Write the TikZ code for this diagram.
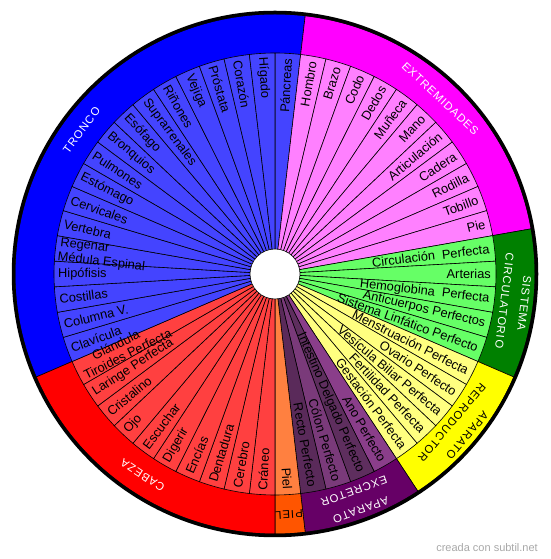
\documentclass[tikz,border=0pt]{standalone}
\usepackage{tikz}
\usetikzlibrary{calc}
\usepackage{fontspec}
\setmainfont{Liberation Sans}
\newfontfamily\catfont[LetterSpace=9]{Liberation Sans}
\pgfdeclarelayer{fg}
\pgfsetlayers{main,fg}
\definecolor{trI}{HTML}{4444FF}\definecolor{trR}{HTML}{0000FF}
\definecolor{exI}{HTML}{FF80FF}\definecolor{exR}{HTML}{FF00FF}
\definecolor{ciI}{HTML}{66FF66}\definecolor{ciR}{HTML}{008000}
\definecolor{reI}{HTML}{FFFF80}\definecolor{reR}{HTML}{FFFF00}
\definecolor{xcR}{HTML}{660066}
\definecolor{xcA}{HTML}{8A3E8A}\definecolor{xcB}{HTML}{5E2E5E}
\definecolor{xcC}{HTML}{7A3A7A}\definecolor{xcD}{HTML}{5A2A5A}
\definecolor{piI}{HTML}{FF8040}\definecolor{piR}{HTML}{FF5500}
\definecolor{caI}{HTML}{FF4040}\definecolor{caR}{HTML}{FF0000}
\definecolor{wmgray}{HTML}{A8A8A8}
\begin{document}
\begin{tikzpicture}[x=1pt,y=1pt,
  itm/.style={font=\fontsize{12.8}{14}\selectfont, inner sep=0pt, text=black},
  cat/.style={font=\catfont\fontsize{11.3}{20}\selectfont, inner sep=0pt, align=center},
  wedge/.style={draw=black, line width=0.6pt}]
\useasboundingbox (0,0) rectangle (550,559);
\coordinate (O) at (275,285);
% category ring
\foreach \a/\b/\c in {83.333/203.333/trR, 10/83.333/exR, -23.333/10/ciR,
  -56.667/-23.333/reR, -83.333/-56.667/xcR, -90/-83.333/piR, -156.667/-90/caR}
  \draw[wedge, fill=\c] (O) -- ++(\a:260pt) arc[start angle=\a, end angle=\b, radius=260pt] -- cycle;
% right half items
\foreach \j/\c/\t in {0/trI/Páncreas, 1/exI/Hombro, 2/exI/Brazo, 3/exI/Codo, 4/exI/Dedos,
  5/exI/Muñeca, 6/exI/Mano, 7/exI/Articulación, 8/exI/Cadera, 9/exI/Rodilla, 10/exI/Tobillo,
  11/exI/Pie, 12/ciI/Circulación\ \ Perfecta, 13/ciI/Arterias, 14/ciI/Hemoglobina\ \ Perfecta,
  15/ciI/Anticuerpos Perfectos, 16/ciI/Sistema Linfático Perfecto, 17/reI/Menstruación Perfecta,
  18/reI/Ovario Perfecto, 19/reI/Vesícula Biliar Perfecta, 20/reI/Fertilidad Perfecta,
  21/reI/Gestación Perfecta, 22/xcA/Ano Perfecto, 23/xcB/Intestino Delgado Perfecto,
  24/xcC/Cólon Perfecto, 25/xcD/Recto Perfecto, 26/piI/Piel}{
  \pgfmathsetmacro\s{90-(\j+1)*20/3}
  \pgfmathsetmacro\e{90-\j*20/3}
  \pgfmathsetmacro\m{90-(\j+0.5)*20/3}
  \draw[wedge, fill=\c] (O) -- ++(\s:221pt) arc[start angle=\s, end angle=\e, radius=221pt] -- cycle;
  \begin{pgfonlayer}{fg}
  \node[itm, rotate=\m, anchor=east] (t\j) at ($(O)+(\m:216pt)$) {\t};
  \end{pgfonlayer}
}
% left half items
\foreach \j/\c/\t in {27/caI/Cráneo, 28/caI/Cerebro, 29/caI/Dentadura, 30/caI/Encías,
  31/caI/Digerir, 32/caI/Escuchar, 33/caI/Ojo, 34/caI/Cristalino, 35/caI/Laringe Perfecta,
  36/caI/{}, 37/trI/Clavícula, 38/trI/Columna V., 39/trI/Costillas, 40/trI/Hipófisis,
  41/trI/{}, 42/trI/Vertebra, 43/trI/Cervicales, 44/trI/Estómago, 45/trI/Pulmones,
  46/trI/Bronquios, 47/trI/Esófago, 48/trI/Suprarrenales, 49/trI/Riñones, 50/trI/Vejiga,
  51/trI/Próstata, 52/trI/Corazón, 53/trI/Hígado}{
  \pgfmathsetmacro\s{90-(\j+1)*20/3}
  \pgfmathsetmacro\e{90-\j*20/3}
  \pgfmathsetmacro\m{90-(\j+0.5)*20/3}
  \pgfmathsetmacro\r{\m+180}
  \draw[wedge, fill=\c] (O) -- ++(\s:221pt) arc[start angle=\s, end angle=\e, radius=221pt] -- cycle;
  \begin{pgfonlayer}{fg}
  \node[itm, rotate=\r, anchor=west] (t\j) at ($(O)+(\m:217pt)$) {\t};
  \end{pgfonlayer}
}
% two-line item labels
\node[itm, rotate=-6.667, anchor=west] (t41a) at ($(O)+(171.8:217pt)$) {Regenar};
\node[itm, rotate=-6.667, anchor=west] (t41b) at ($(O)+(175.6:218pt)$) {Médula Espinal};
\node[itm, rotate=26.667, anchor=west] (t36a) at ($(O)+(204.3:200pt)$) {Glándula};
\node[itm, rotate=26.667, anchor=west] (t36b) at ($(O)+(208.1:216pt)$) {Tiroides Perfecta};
% hole and outer border
\draw[fill=white, line width=0.6pt] (O) circle[radius=25pt];
\draw[line width=3.5pt] (O) circle[radius=261.5pt];
% category labels
\node[cat, text=white, rotate=53.333] (cTR) at ($(O)+(143.333:241pt)$) {TRONCO};
\node[cat, text=white, rotate=-43.333] (cEX) at ($(O)+(46.667:241pt)$) {EXTREMIDADES};
\node[cat, text=white, rotate=-96.667] (cCI) at ($(O)+(-6.667:241pt)$) {SISTEMA\\CIRCULATORIO};
\node[cat, text=black, rotate=-130] (cRE) at ($(O)+(-40:241pt)$) {APARATO\\REPRODUCTOR};
\node[cat, text=white, rotate=-160] (cXC) at ($(O)+(-70:241pt)$) {APARATO\\EXCRETOR};
\node[cat, text=black, rotate=-176.667] (cPI) at ($(O)+(-86.667:241pt)$) {PIEL};
\node[cat, text=white, rotate=146.667] (cCA) at ($(O)+(236.667:241pt)$) {CABEZA};
% watermark
\node[font=\fontsize{11}{13}\selectfont, text=wmgray, inner sep=0pt, anchor=base east] (wm) at (538,7.3) {creada con subtil.net};
\end{tikzpicture}
\end{document}
